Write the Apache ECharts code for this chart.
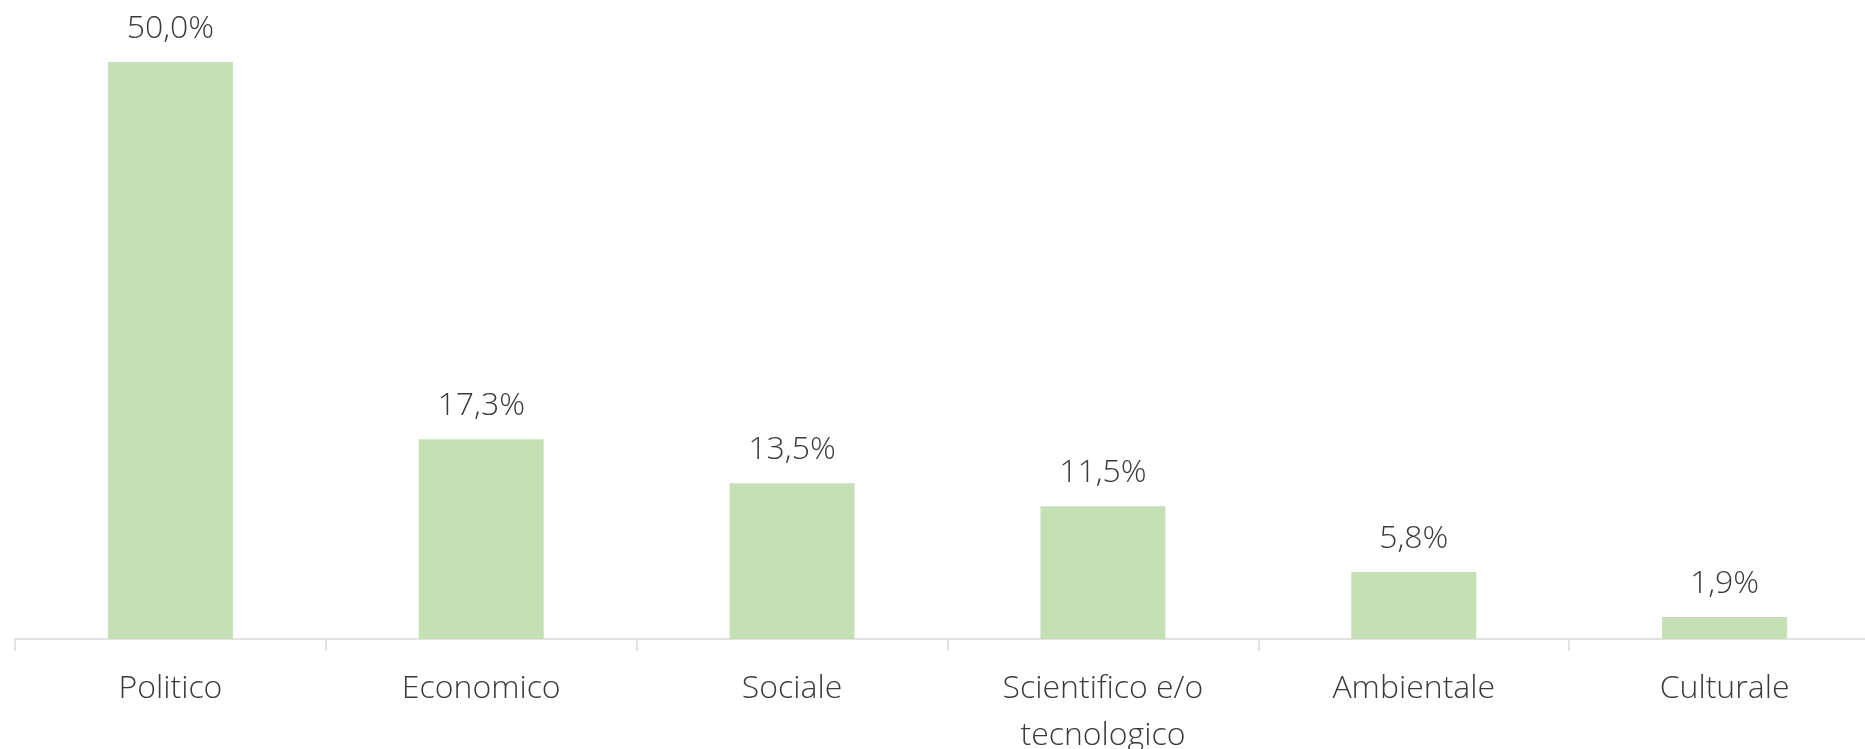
<!DOCTYPE html>
<html>
<head>
<meta charset="utf-8">
<style>
  html, body { margin: 0; padding: 0; background: #fff; }
  #chart { width: 1865px; height: 749px; }
</style>
<script src="https://cdn.jsdelivr.net/npm/echarts@6/dist/echarts.min.js"></script>
</head>
<body>
<div id="chart"></div>
<script>
// categorie e percentuali
var categories = ['Politico', 'Economico', 'Sociale', 'Scientifico e/o\ntecnologico', 'Ambientale', 'Culturale'];
var values = [50.0, 17.3, 13.5, 11.5, 5.8, 1.9];

var dom = document.getElementById('chart');
var myChart = echarts.init(dom);

var option = {
    animation: false,
    textStyle: { fontFamily: 'Open Sans' },
    grid: {
        left: 15,
        width: 1865,
        top: 62,
        bottom: 110,
        outerBoundsMode: 'none',
        containLabel: false
    },
    xAxis: {
        type: 'category',
        data: categories,
        axisLine: { lineStyle: { color: '#d9d9d9', width: 1.5 } },
        axisTick: { show: true, length: 12, lineStyle: { color: '#d9d9d9', width: 1.5 } },
        axisLabel: {
            margin: 26,
            fontSize: 32,
            lineHeight: 47,
            color: '#3a3a3a',
            fontWeight: 300
        }
    },
    yAxis: {
        type: 'value',
        min: 0,
        max: 50,
        show: false
    },
    series: [
        {
            type: 'bar',
            data: values,
            barWidth: 125,
            itemStyle: { color: '#c5e0b4' },
            label: {
                show: true,
                position: 'top',
                distance: 17,
                fontSize: 32,
                color: '#3a3a3a',
                fontWeight: 300,
                formatter: function (p) {
                    return p.value.toFixed(1).replace('.', ',') + '%';
                }
            }
        }
    ]
};

myChart.setOption(option);
</script>
</body>
</html>
